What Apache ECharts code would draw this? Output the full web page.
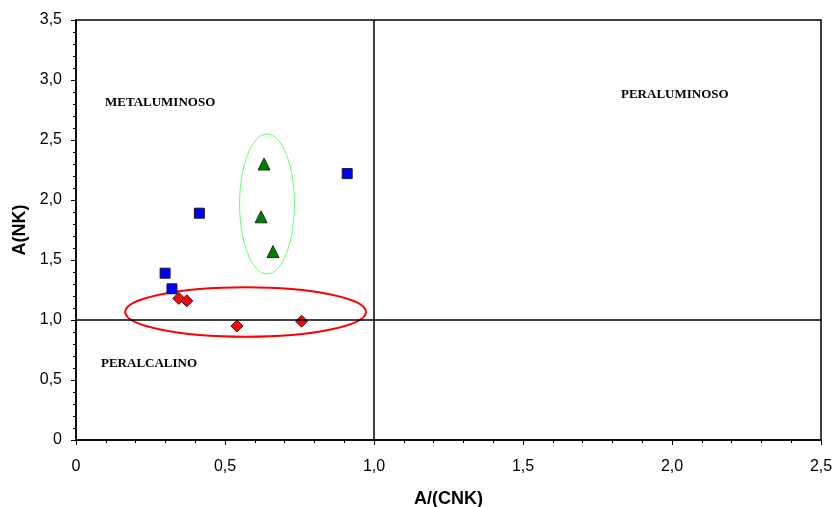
<!DOCTYPE html>
<html>
<head>
<meta charset="utf-8">
<script src="https://cdn.jsdelivr.net/npm/echarts@6/dist/echarts.min.js"></script>
<style>
  html, body { margin: 0; padding: 0; background: #fff; }
  #chart { width: 835px; height: 507px; }
</style>
</head>
<body>
<div id="chart"></div>
<script>
// puntos [A/(CNK), A(NK)]
var squares = [[0.414, 1.89], [0.910, 2.22], [0.299, 1.39], [0.322, 1.26]];
var triangles = [[0.631, 2.30], [0.621, 1.86], [0.661, 1.57]];
var diamonds = [[0.345, 1.18], [0.372, 1.16], [0.540, 0.95], [0.757, 0.99]];
// elipses [cx, cy, rx, ry]
var greenEllipse = [[0.641, 1.967, 0.092, 0.583]];
var redEllipse = [[0.569, 1.067, 0.404, 0.206]];
// limites
var limitX = 1.0;
var limitY = 1.0;

function fmt(v) {
    return v === 0 ? '0' : v.toFixed(1).replace('.', ',');
}

function ellipseSeries(data, color, width) {
    return {
        type: 'custom',
        silent: true,
        data: data,
        renderItem: function (params, api) {
            var c = api.coord([api.value(0), api.value(1)]);
            var s = api.size([api.value(2), api.value(3)]);
            return {
                type: 'ellipse',
                shape: { cx: c[0], cy: c[1], rx: s[0], ry: s[1] },
                style: { fill: 'none', stroke: color, lineWidth: width }
            };
        },
        z: 1
    };
}

var myChart = echarts.init(document.getElementById('chart'));

var zoneText = {
    fontFamily: 'Liberation Serif',
    fontWeight: 'bold',
    fontSize: 13,
    fill: '#000'
};

myChart.setOption({
    animation: false,
    grid: {
        left: 76, top: 20, right: 14, bottom: 67,
        containLabel: false,
        outerBoundsMode: 'none',
        show: true,
        borderColor: '#000',
        borderWidth: 1.5
    },
    xAxis: {
        type: 'value',
        min: 0, max: 2.5, interval: 0.5,
        name: 'A/(CNK)',
        nameLocation: 'middle',
        nameGap: 50,
        nameTextStyle: { fontFamily: 'Liberation Sans', fontWeight: 'bold', fontSize: 18, color: '#000' },
        axisLine: { show: true, lineStyle: { color: '#000', width: 1.5 } },
        axisTick: { show: true, inside: false, length: 5, lineStyle: { color: '#000' } },
        minorTick: { show: true, splitNumber: 5, length: 3, lineStyle: { color: '#000' } },
        splitLine: { show: false },
        axisLabel: {
            margin: 19,
            fontFamily: 'Liberation Sans', fontSize: 16, color: '#000',
            formatter: fmt
        }
    },
    yAxis: {
        type: 'value',
        min: 0, max: 3.5, interval: 0.5,
        name: 'A(NK)',
        nameLocation: 'middle',
        nameGap: 47,
        nameTextStyle: { fontFamily: 'Liberation Sans', fontWeight: 'bold', fontSize: 18, color: '#000' },
        axisLine: { show: true, lineStyle: { color: '#000', width: 1.5 } },
        axisTick: { show: true, inside: false, length: 5, lineStyle: { color: '#000' } },
        minorTick: { show: true, splitNumber: 5, length: 3, lineStyle: { color: '#000' } },
        splitLine: { show: false },
        axisLabel: {
            margin: 14,
            fontFamily: 'Liberation Sans', fontSize: 16, color: '#000',
            formatter: fmt
        }
    },
    graphic: [
        { type: 'text', left: 105, top: 96, style: Object.assign({ text: 'METALUMINOSO' }, zoneText) },
        { type: 'text', left: 621, top: 88, style: Object.assign({ text: 'PERALUMINOSO' }, zoneText) },
        { type: 'text', left: 101, top: 357, style: Object.assign({ text: 'PERALCALINO' }, zoneText) }
    ],
    series: [
        ellipseSeries(greenEllipse, '#66ff66', 1),
        ellipseSeries(redEllipse, '#ff0000', 2),
        {
            type: 'scatter',
            data: squares,
            symbol: 'rect',
            symbolSize: 10,
            itemStyle: { color: '#0000ff', borderColor: '#1a1a33', borderWidth: 1, opacity: 1 },
            markLine: {
                silent: true,
                symbol: 'none',
                label: { show: false },
                lineStyle: { color: '#000', type: 'solid', width: 1.5 },
                data: [{ xAxis: limitX }, { yAxis: limitY }]
            },
            z: 3
        },
        {
            type: 'scatter',
            data: triangles,
            symbol: 'triangle',
            symbolSize: 12,
            itemStyle: { color: '#008000', borderColor: '#1a331a', borderWidth: 1, opacity: 1 },
            z: 3
        },
        {
            type: 'scatter',
            data: diamonds,
            symbol: 'diamond',
            symbolSize: 12,
            itemStyle: { color: '#ff0000', borderColor: '#331a1a', borderWidth: 1, opacity: 1 },
            z: 3
        }
    ]
});
</script>
</body>
</html>
